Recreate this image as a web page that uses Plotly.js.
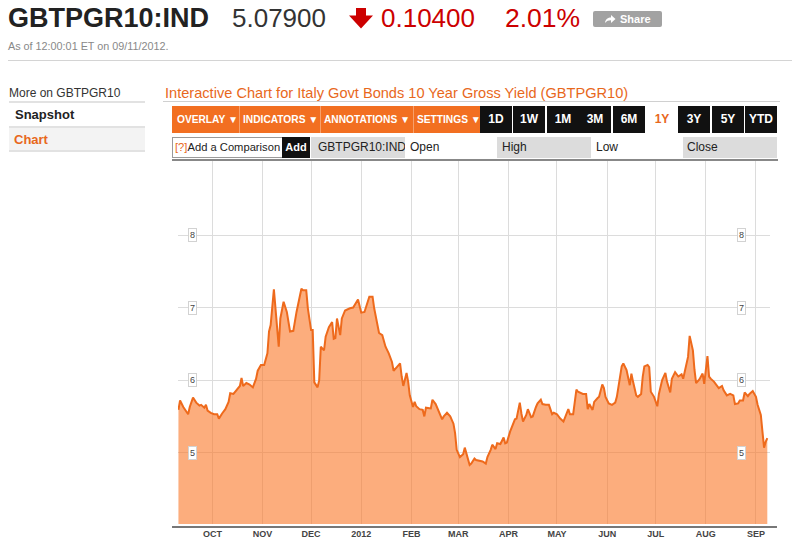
<!DOCTYPE html>
<html>
<head>
<meta charset="utf-8">
<script src="https://cdn.plot.ly/plotly-3.0.1.min.js"></script>
<style>
  html, body { margin:0; padding:0; background:#fff; }
  body { width:800px; height:539px; overflow:hidden; position:relative; font-family: Arial, "Liberation Sans", Helvetica, sans-serif; }
  .abs { position:absolute; white-space:nowrap; line-height:1; }
  .hline { position:absolute; height:1px; }
  .tb { position:absolute; top:106px; height:27px; }
  .tbtxt { position:absolute; top:114.5px; font-weight:bold; font-size:10.2px; color:#fff; line-height:1; white-space:nowrap; }
  .btn { position:absolute; top:106px; height:27px; width:32px; background:#111; color:#fff; font-weight:bold; font-size:12px; line-height:27px; text-align:center; }
  .cell { position:absolute; top:137px; height:21px; font-size:12px; color:#222; line-height:21px; white-space:nowrap; overflow:hidden; }
</style>
</head>
<body>
<!-- Header -->
<div class="abs" style="left:8px;top:4.5px;font-size:27px;font-weight:bold;color:#222;">GBTPGR10:IND</div>
<div class="abs" style="left:232px;top:5.3px;font-size:26px;color:#333;">5.07900</div>
<svg style="position:absolute;left:347px;top:6px;" width="28" height="26" viewBox="347 6 28 26">
  <polygon points="356,8 366,8 366,15.5 373,15.5 361,28.5 349,15.5 356,15.5" fill="#c00"/>
</svg>
<div class="abs" style="left:381px;top:5.3px;font-size:26px;color:#c00;">0.10400</div>
<div class="abs" style="left:505px;top:5.3px;font-size:26.5px;color:#c00;">2.01%</div>
<div style="position:absolute;left:593px;top:11px;width:69px;height:16px;background:#a2a2a2;border-radius:2px;"></div>
<svg style="position:absolute;left:604px;top:14px;" width="12" height="10" viewBox="0 0 12 10">
  <path d="M1,9 C1.5,5 4,3.5 7,3.5 L7,1 L11.5,5 L7,9 L7,6.3 C4.5,6.3 2.5,7 1,9 Z" fill="#fff"/>
</svg>
<div class="abs" style="left:620px;top:14px;font-size:11px;font-weight:bold;color:#fff;">Share</div>
<div class="abs" style="left:8px;top:40.5px;font-size:10.8px;color:#888;">As of 12:00:01 ET on 09/11/2012.</div>
<div class="hline" style="left:8px;top:60px;width:784px;background:#d4d4d4;"></div>

<!-- Left nav -->
<div class="abs" style="left:9px;top:87px;font-size:12px;color:#333;">More on GBTPGR10</div>
<div class="hline" style="left:9px;top:101px;width:136px;height:2px;background:#e2e2e2;"></div>
<div class="abs" style="left:15px;top:107.5px;font-size:13px;font-weight:bold;color:#222;">Snapshot</div>
<div class="hline" style="left:9px;top:126px;width:136px;height:2px;background:#e2e2e2;"></div>
<div style="position:absolute;left:9px;top:128px;width:136px;height:23px;background:#f3f3f3;"></div>
<div class="abs" style="left:14px;top:132.5px;font-size:13px;font-weight:bold;color:#e8681c;">Chart</div>
<div class="hline" style="left:9px;top:150px;width:136px;height:2px;background:#e2e2e2;"></div>

<!-- Chart title -->
<div class="abs" style="left:165px;top:85.5px;font-size:14.6px;color:#e8681c;">Interactive Chart for Italy Govt Bonds 10 Year Gross Yield (GBTPGR10)</div>
<div class="hline" style="left:163px;top:101px;width:617px;background:#d0d0d0;"></div>

<!-- Toolbar -->
<div class="tb" style="left:172px;width:308px;background:#f26f21;"></div>
<div class="tb" style="left:239px;width:1px;background:#f7a06b;"></div>
<div class="tb" style="left:320px;width:1px;background:#f7a06b;"></div>
<div class="tb" style="left:413px;width:1px;background:#f7a06b;"></div>
<div class="tbtxt" style="left:177px;">OVERLAY &#9660;</div>
<div class="tbtxt" style="left:243px;">INDICATORS &#9660;</div>
<div class="tbtxt" style="left:324px;">ANNOTATIONS &#9660;</div>
<div class="tbtxt" style="left:417px;">SETTINGS &#9660;</div>
<div class="btn" style="left:480px;">1D</div>
<div class="btn" style="left:513px;">1W</div>
<div class="btn" style="left:547px;">1M</div>
<div class="btn" style="left:579px;">3M</div>
<div class="btn" style="left:613px;">6M</div>
<div class="btn" style="left:646px;background:#fff;color:#e8681c;">1Y</div>
<div class="btn" style="left:678px;">3Y</div>
<div class="btn" style="left:712px;">5Y</div>
<div class="btn" style="left:745px;">YTD</div>

<!-- Row 2 -->
<div class="cell" style="left:172px;width:107px;height:19px;line-height:19px;border:1px solid #9a9a9a;background:#fff;padding-left:2px;font-size:11.2px;"><span style="color:#e8681c;">[?]</span>Add a Comparison</div>
<div class="cell" style="left:282px;width:28px;background:#111;color:#fff;font-weight:bold;font-size:11px;text-align:center;">Add</div>
<div class="cell" style="left:311px;width:87px;padding-left:7px;background:#dcdcdc;">GBTPGR10:IND</div>
<div class="cell" style="left:405px;width:87px;padding-left:5px;background:#fff;">Open</div>
<div class="cell" style="left:497px;width:89px;padding-left:5px;background:#dcdcdc;">High</div>
<div class="cell" style="left:591px;width:87px;padding-left:5px;background:#fff;">Low</div>
<div class="cell" style="left:683px;width:90px;padding-left:4px;background:#dcdcdc;">Close</div>
<div class="hline" style="left:172px;top:159px;width:606px;height:2px;background:#888;"></div>

<div class="abs" style="left:735px;top:174.8px;font-size:10px;font-weight:bold;color:#333;">Print</div>

<div id="chart" style="position:absolute;left:160px;top:155px;width:640px;height:384px;"></div>

<script>
const dates = [
'2011-09-10','2011-09-11','2011-09-13','2011-09-14','2011-09-16','2011-09-17','2011-09-19','2011-09-21','2011-09-23','2011-09-24',
'2011-09-26','2011-09-27','2011-09-28','2011-09-30','2011-10-02','2011-10-04','2011-10-05','2011-10-07','2011-10-09','2011-10-11',
'2011-10-12','2011-10-14','2011-10-15','2011-10-17','2011-10-18','2011-10-19','2011-10-20','2011-10-22','2011-10-24','2011-10-26',
'2011-10-28','2011-10-29','2011-10-31','2011-11-02','2011-11-04','2011-11-05','2011-11-06','2011-11-08','2011-11-09','2011-11-11',
'2011-11-12','2011-11-14','2011-11-16','2011-11-18','2011-11-20','2011-11-21','2011-11-22','2011-11-25','2011-11-26','2011-11-28',
'2011-11-29','2011-12-01','2011-12-02','2011-12-03','2011-12-05','2011-12-06','2011-12-07','2011-12-09','2011-12-10','2011-12-12',
'2011-12-14','2011-12-15','2011-12-16','2011-12-17','2011-12-19','2011-12-20','2011-12-22','2011-12-25','2011-12-27','2011-12-30',
'2012-01-01','2012-01-03','2012-01-05','2012-01-06','2012-01-08','2012-01-09','2012-01-12','2012-01-14','2012-01-16','2012-01-18',
'2012-01-20','2012-01-21','2012-01-23','2012-01-25','2012-01-26','2012-01-27','2012-01-29','2012-01-30','2012-01-31','2012-02-02',
'2012-02-03','2012-02-04','2012-02-06','2012-02-08','2012-02-09','2012-02-10','2012-02-13','2012-02-14','2012-02-16','2012-02-18',
'2012-02-20','2012-02-21','2012-02-23','2012-02-25','2012-02-27','2012-02-28','2012-02-29','2012-03-02','2012-03-04','2012-03-05',
'2012-03-07','2012-03-08','2012-03-09','2012-03-11','2012-03-12','2012-03-15','2012-03-16','2012-03-18','2012-03-19','2012-03-21',
'2012-03-22','2012-03-24','2012-03-25','2012-03-27','2012-03-29','2012-03-30','2012-03-31','2012-04-02','2012-04-04','2012-04-05',
'2012-04-06','2012-04-08','2012-04-09','2012-04-10','2012-04-12','2012-04-13','2012-04-15','2012-04-16','2012-04-18','2012-04-19',
'2012-04-21','2012-04-22','2012-04-24','2012-04-26','2012-04-28','2012-04-29','2012-05-01','2012-05-03','2012-05-05','2012-05-06',
'2012-05-08','2012-05-09','2012-05-11','2012-05-13','2012-05-14','2012-05-17','2012-05-19','2012-05-20','2012-05-21','2012-05-23',
'2012-05-24','2012-05-26','2012-05-27','2012-05-29','2012-05-30','2012-05-31','2012-06-02','2012-06-04','2012-06-06','2012-06-07',
'2012-06-09','2012-06-10','2012-06-11','2012-06-13','2012-06-15','2012-06-16','2012-06-17','2012-06-19','2012-06-20','2012-06-22',
'2012-06-23','2012-06-24','2012-06-26','2012-06-27','2012-06-28','2012-06-30','2012-07-02','2012-07-03','2012-07-05','2012-07-07',
'2012-07-08','2012-07-10','2012-07-11','2012-07-13','2012-07-15','2012-07-17','2012-07-18','2012-07-20','2012-07-21','2012-07-22',
'2012-07-24','2012-07-25','2012-07-26','2012-07-28','2012-07-30','2012-07-31','2012-08-01','2012-08-02','2012-08-03','2012-08-04',
'2012-08-06','2012-08-08','2012-08-09','2012-08-11','2012-08-12','2012-08-14','2012-08-16','2012-08-18','2012-08-19','2012-08-21',
'2012-08-22','2012-08-24','2012-08-25','2012-08-27','2012-08-28','2012-08-30','2012-09-01','2012-09-02','2012-09-04','2012-09-05',
'2012-09-06','2012-09-07','2012-09-08'
];
const yields = [
5.59,5.72,5.63,5.60,5.53,5.63,5.76,5.69,5.65,5.66,
5.62,5.66,5.58,5.55,5.53,5.53,5.47,5.54,5.60,5.70,
5.82,5.81,5.84,5.90,5.92,6.03,5.92,5.96,5.94,5.90,
6.02,6.13,6.21,6.21,6.37,6.67,6.76,7.25,6.94,6.46,
6.85,7.08,6.94,6.67,6.68,6.83,6.94,7.26,7.24,7.24,
6.99,6.69,6.69,5.97,5.90,6.00,6.46,6.41,6.60,6.73,
6.80,6.57,6.58,6.85,6.62,6.85,6.96,6.99,7.00,7.11,
6.93,6.94,7.10,7.15,7.15,6.99,6.65,6.62,6.46,6.37,
6.25,6.13,6.18,6.23,6.05,5.92,6.10,5.98,5.79,5.63,
5.70,5.64,5.60,5.59,5.50,5.62,5.61,5.73,5.67,5.56,
5.46,5.50,5.55,5.50,5.40,5.27,5.04,4.94,4.98,5.07,
4.91,4.83,4.85,4.92,4.90,4.88,4.88,4.85,4.94,5.04,
5.11,5.05,5.13,5.12,5.21,5.13,5.14,5.29,5.40,5.46,
5.47,5.69,5.54,5.43,5.52,5.60,5.49,5.50,5.63,5.68,
5.73,5.67,5.66,5.66,5.53,5.55,5.53,5.47,5.43,5.49,
5.60,5.53,5.53,5.87,5.84,5.81,5.81,5.60,5.67,5.59,
5.70,5.75,5.77,5.94,5.89,5.77,5.68,5.66,5.69,5.77,
6.02,6.19,6.23,6.14,5.93,6.09,5.98,5.79,5.77,5.81,
6.05,6.19,6.21,6.18,5.84,5.77,5.64,5.81,6.00,6.10,
5.98,5.83,6.02,6.11,6.05,6.08,6.02,6.21,6.32,6.61,
6.41,6.14,5.96,6.01,6.09,5.95,6.12,6.33,6.05,6.02,
5.98,5.92,5.89,5.92,5.86,5.79,5.81,5.79,5.67,5.68,
5.72,5.72,5.83,5.78,5.81,5.85,5.77,5.66,5.52,5.29,
5.07,5.15,5.20
];
const monthTicks = ['2011-10-01','2011-11-01','2011-12-01','2012-01-01','2012-02-01','2012-03-01',
                    '2012-04-01','2012-05-01','2012-06-01','2012-07-01','2012-08-01','2012-09-01'];
const monthLabels = ['OCT','NOV','DEC','2012','FEB','MAR','APR','MAY','JUN','JUL','AUG','SEP'];
const yTicks = [5, 6, 7, 8];
const yTickLabels = ['5', '6', '7', '8'];

const labelStyle = {
  showarrow:false, xref:'paper', yref:'y', xanchor:'center', yanchor:'middle',
  bgcolor:'#ffffff', bordercolor:'#d2d2d2', borderwidth:1, borderpad:1,
  font:{family:'Arial, "Liberation Sans", sans-serif', size:9, color:'#444'}
};
const annotations = [];
yTicks.forEach((v, i) => {
  annotations.push(Object.assign({}, labelStyle, {x:0.0248, y:v, text:yTickLabels[i]}));
  annotations.push(Object.assign({}, labelStyle, {x:0.9519, y:v, text:yTickLabels[i]}));
});

const trace = {
  x: dates, y: yields, type:'scatter', mode:'lines',
  line:{color:'#ee6a1c', width:2},
  fill:'tozeroy', fillcolor:'rgba(250,118,38,0.6)',
  hoverinfo:'skip'
};

const layout = {
  width:640, height:384,
  margin:{l:18, r:30, t:6, b:15, pad:0},
  paper_bgcolor:'rgba(0,0,0,0)', plot_bgcolor:'#ffffff',
  showlegend:false,
  xaxis:{
    type:'date', range:['2011-09-09 17:30','2012-09-09 16:00'],
    tickmode:'array', tickvals:monthTicks, ticktext:monthLabels,
    showgrid:true, gridcolor:'#dcdcdc', gridwidth:1,
    ticks:'', showline:false, zeroline:false, ticklabelstandoff:3,
    tickfont:{family:'Arial, "Liberation Sans", sans-serif', size:9, color:'#444', weight:'bold'},
    fixedrange:true
  },
  yaxis:{
    range:[4.0175, 9.02], tickmode:'array', tickvals:yTicks,
    showticklabels:false, showgrid:true, gridcolor:'#dcdcdc', gridwidth:1,
    ticks:'', zeroline:false, showline:false, fixedrange:true
  },
  shapes:[{
    type:'line', xref:'paper', yref:'paper',
    x0:-0.0101, x1:1.0118, y0:-0.0083, y1:-0.0083,
    line:{color:'#777', width:2}
  }],
  annotations: annotations
};

Plotly.newPlot('chart', [trace], layout, {displayModeBar:false, staticPlot:true});
</script>
</body>
</html>
